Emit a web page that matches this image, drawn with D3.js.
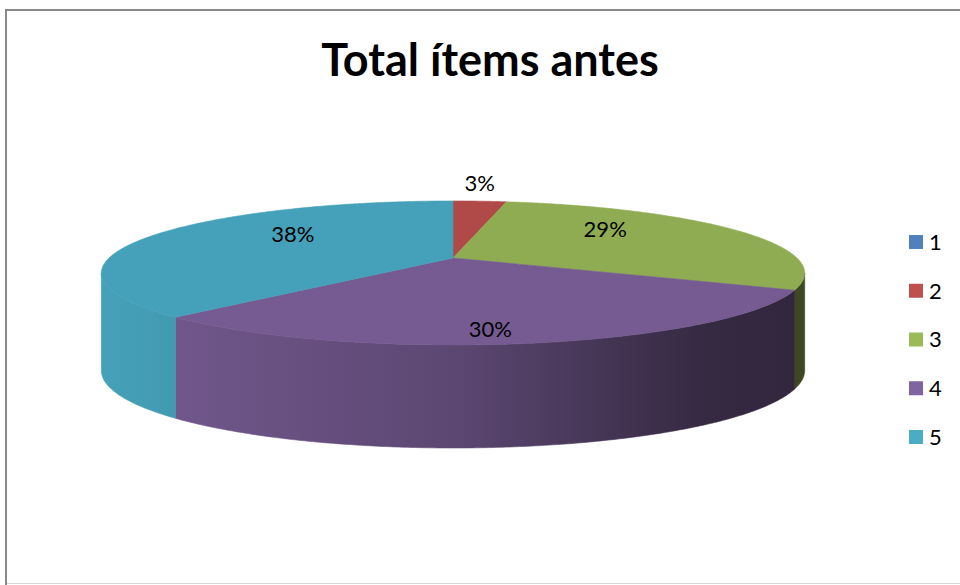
<!DOCTYPE html>
<html>
<head>
<meta charset="utf-8">
<script src="https://cdn.jsdelivr.net/npm/d3@7"></script>
<style>
  html, body { margin: 0; padding: 0; background: #fff; }
  svg { display: block; }
</style>
</head>
<body>
<svg id="chart" width="960" height="585"></svg>
<script>
// ---- data ----
const title = "Total ítems antes";
const categories = ["1", "2", "3", "4", "5"];
const values = [0, 3, 29, 30, 38];
const legendColors = ["#4F81BD", "#C0504D", "#9BBB59", "#8064A2", "#4BACC6"];
const topColors = ["#4A7AB3", "#B04A48", "#8FAC53", "#765B92", "#45A1B9"];

// ---- setup ----
const svg = d3.select("#chart");

// frame
svg.append("path")
  .attr("d", "M6,585 L6,10 L960,10")
  .attr("fill", "none").attr("stroke", "#8a8a8a").attr("stroke-width", 2);
svg.append("line")
  .attr("x1", 7).attr("x2", 960).attr("y1", 583.5).attr("y2", 583.5)
  .attr("stroke", "#d6d6d6").attr("stroke-width", 1);

// title
svg.append("text")
  .attr("x", 490).attr("y", 76)
  .attr("text-anchor", "middle")
  .attr("font-family", "Lato, 'Open Sans', sans-serif")
  .attr("font-weight", "bold")
  .attr("font-size", 45)
  .attr("fill", "#000")
  .text(title);

// ---- 3D pie geometry (perspective projection of a disc) ----
const cx = 453, cy = 258;      // apex of slices on screen
const kx = 344, hy = 68.9;      // lateral and depth scales
const persp = 0.208;            // perspective strength
function proj(theta, r) {
  const u = r * Math.sin(theta), v = -r * Math.cos(theta);
  const s = 1 / (1 - persp * v);
  return [cx + kx * u * s, cy + hy * v * s];
}
function thickness(theta) {
  const v = -Math.cos(theta);
  return 96 + 7 * v;
}
const total = d3.sum(values);
const pie = d3.pie().sort(null).value(d => d).startAngle(0).endAngle(2 * Math.PI);
const arcs = pie(values);
const pct = d3.format(".0%");

const defs = svg.append("defs");
topColors.forEach((c, i) => {
  const base = d3.color(c);
  const g = defs.append("linearGradient")
    .attr("id", "side" + i)
    .attr("gradientUnits", "userSpaceOnUse")
    .attr("x1", 101).attr("x2", 806).attr("y1", 0).attr("y2", 0);
  [[0, 1.0], [0.5, 0.78], [0.85, 0.46], [1, 0.42]].forEach(([o, f]) => {
    const col = d3.rgb(base.r * f, base.g * f, base.b * f);
    g.append("stop").attr("offset", o).attr("stop-color", col.formatHex());
  });
});

const line = d3.line();
function sample(a, b) {
  const n = Math.max(2, Math.ceil(Math.abs(b - a) / 0.01));
  return d3.range(n + 1).map(i => a + (b - a) * i / n);
}

// visible outer wall range
const wallStart = Math.acos(-persp);
const wallEnd = 2 * Math.PI - wallStart;

const gWalls = svg.append("g");
arcs.forEach((d, i) => {
  const a = Math.max(d.startAngle, wallStart);
  const b = Math.min(d.endAngle, wallEnd);
  if (b <= a) return;
  const angs = sample(a, b);
  const topPts = angs.map(t => proj(t, 1));
  const botPts = angs.slice().reverse().map(t => {
    const p = proj(t, 1);
    return [p[0], p[1] + thickness(t)];
  });
  gWalls.append("path")
    .attr("d", line(topPts.concat(botPts)) + "Z")
    .attr("fill", `url(#side${i})`)
    .attr("stroke", `url(#side${i})`)
    .attr("stroke-width", 0.6);
});

// top faces
const gTop = svg.append("g");
arcs.forEach((d, i) => {
  if (d.endAngle - d.startAngle <= 0) return;
  const pts = [[cx, cy]].concat(sample(d.startAngle, d.endAngle).map(t => proj(t, 1)));
  gTop.append("path")
    .attr("d", line(pts) + "Z")
    .attr("fill", topColors[i])
    .attr("stroke", topColors[i])
    .attr("stroke-width", 0.6);
});

// data labels
const gLab = svg.append("g")
  .attr("font-family", "Lato, 'Open Sans', sans-serif")
  .attr("font-size", 22)
  .attr("fill", "#000")
  .attr("text-anchor", "middle");
arcs.forEach((d, i) => {
  if (values[i] <= 0) return;
  const mid = (d.startAngle + d.endAngle) / 2;
  const share = values[i] / total;
  let x, y;
  if (share < 0.05) {
    const p = proj(mid, 1);
    x = p[0]; y = p[1] - 18;
  } else {
    const u = Math.sin(mid), v = -Math.cos(mid);
    const s = 1 / (1 - persp * 0.5 * v);
    x = cx + kx * 0.52 * u * s;
    y = cy + hy * 0.95 * v * s;
  }
  gLab.append("text")
    .attr("x", x).attr("y", y)
    .attr("dy", "0.35em")
    .text(pct(share));
});

// legend
const legendY = d3.scalePoint().domain(categories).range([242, 437]);
const gLeg = svg.append("g")
  .attr("font-family", "Lato, 'Open Sans', sans-serif")
  .attr("font-size", 22);
categories.forEach((c, i) => {
  const y = legendY(c);
  gLeg.append("rect")
    .attr("x", 909).attr("y", y - 7)
    .attr("width", 14).attr("height", 14)
    .attr("fill", legendColors[i]);
  gLeg.append("text")
    .attr("x", 929).attr("y", y)
    .attr("dy", "0.36em")
    .attr("fill", "#000")
    .text(c);
});
</script>
</body>
</html>
